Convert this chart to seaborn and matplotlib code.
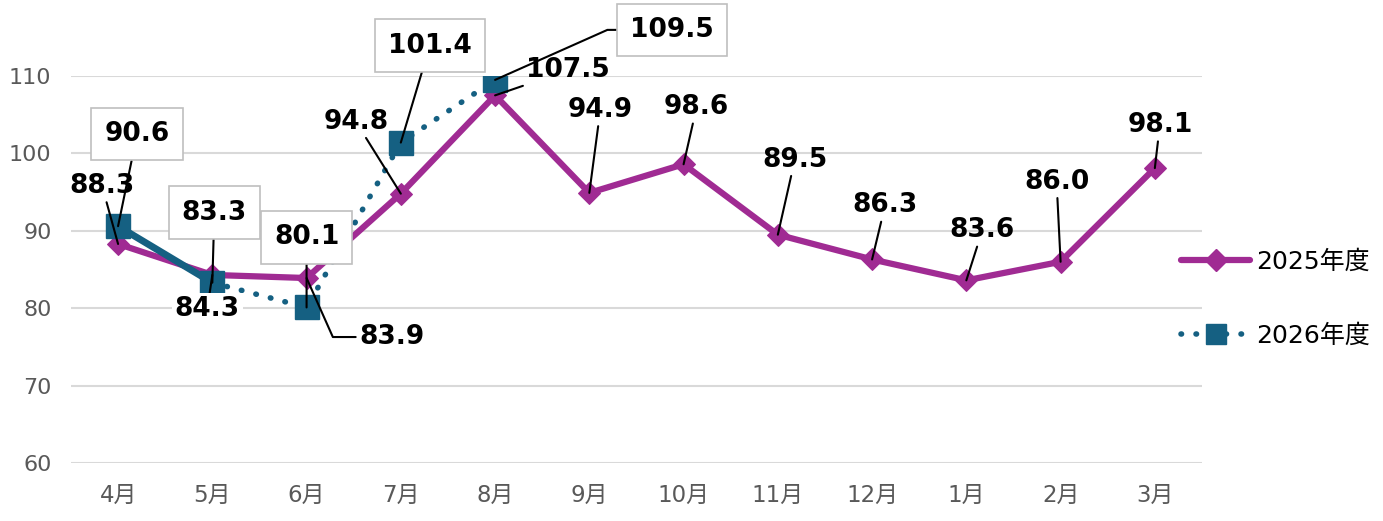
import pandas as pd
import matplotlib.pyplot as plt
import seaborn as sns
from matplotlib.lines import Line2D

# --- data ---
months = ["4月", "5月", "6月", "7月", "8月", "9月", "10月", "11月", "12月", "1月", "2月", "3月"]
fy2025 = [88.3, 84.3, 83.9, 94.8, 107.5, 94.9, 98.6, 89.5, 86.3, 83.6, 86.0, 98.1]
fy2026 = [90.6, 83.3, 80.1, 101.4, 109.5]

# label offsets (pixels, from each point)
off2025 = [(-16, 58), (-5, -34), (85, -59), (-45, 72), (73, 25), (11, 83),
           (13, 57), (17, 75), (13, 54), (16, 50), (-4, 80), (5, 43)]
off2026 = [(19, 92), (2, 70), (0, 70), (29, 97), (177, 50)]

PURPLE = "#A02B93"
TEAL = "#156082"
FONTS = ["DejaVu Sans", "Noto Sans CJK JP"]

sns.set_theme(style="white")
plt.rcParams["font.family"] = FONTS

df25 = pd.DataFrame({"x": range(len(fy2025)), "v": fy2025})
df26 = pd.DataFrame({"x": range(len(fy2026)), "v": fy2026})

fig = plt.figure(figsize=(13.83, 5.21), dpi=100)
ax = fig.add_axes([0.0513, 0.1113, 0.8178, 0.7428])

sns.lineplot(data=df25, x="x", y="v", ax=ax, color=PURPLE, lw=4.5,
             marker="D", markersize=11, markeredgecolor=PURPLE, zorder=3)
# 2026: solid for the first segment, dotted afterwards
sns.lineplot(data=df26.iloc[:2], x="x", y="v", ax=ax, color=TEAL, lw=5, zorder=4)
dotted = sns.lineplot(data=df26.iloc[1:], x="x", y="v", ax=ax, color=TEAL, lw=4,
                      zorder=4)
dotted.lines[-1].set_linestyle((0, (0.1, 2.6)))
dotted.lines[-1].set_dash_capstyle("round")
ax.plot(df26["x"], df26["v"], ls="none", marker="s", ms=17, color=TEAL, zorder=5)

ax.set_xlim(-0.5, 11.5)
ax.set_ylim(60, 110)
ax.set_yticks(range(60, 111, 10))
ax.set_xticks(range(len(months)))
ax.set_xticklabels(months)
ax.set_xlabel("")
ax.set_ylabel("")
ax.grid(axis="y", color="#D9D9D9", lw=1.5)
ax.set_axisbelow(True)
for s in ax.spines.values():
    s.set_visible(False)
ax.tick_params(axis="x", length=0, pad=15, labelsize=16.5, labelcolor="#595959")
ax.tick_params(axis="y", length=0, pad=14, labelsize=16, labelcolor="#595959")

# --- data labels ---
line_kw = dict(arrowstyle="-", color="black", lw=1.5, shrinkA=0, shrinkB=0)
for i, (v, off) in enumerate(zip(fy2025, off2025)):
    props = dict(line_kw)
    if i == 2:
        props.update(connectionstyle="angle,angleA=180,angleB=-66,rad=0", relpos=(0, 0.5))
    bbox = dict(boxstyle="square,pad=0.1", fc="white", ec="none") if i == 1 else None
    ax.annotate(f"{v:.1f}", (i, v), xytext=off, textcoords="offset pixels",
                ha="center", va="center", fontsize=19, fontweight="bold",
                color="black", family="DejaVu Sans", arrowprops=props, bbox=bbox,
                zorder=10, annotation_clip=False)

for i, (v, off) in enumerate(zip(fy2026, off2026)):
    props = dict(line_kw)
    if i == 4:
        props.update(connectionstyle="angle,angleA=180,angleB=24,rad=0", relpos=(0, 0.5))
    ax.annotate(f"{v:.1f}", (i, v), xytext=off, textcoords="offset pixels",
                ha="center", va="center", fontsize=19, fontweight="bold",
                color="black", family="DejaVu Sans", arrowprops=props,
                bbox=dict(boxstyle="square,pad=0.5", fc="white", ec="#BFBFBF", lw=1.2),
                zorder=11, annotation_clip=False)

# --- legend ---
h25 = Line2D([], [], color=PURPLE, lw=4.5, marker="D", ms=11, solid_capstyle="round")
h26 = Line2D([], [], color=TEAL, lw=4, ls=(0, (0.1, 2.6)), dash_capstyle="round",
             marker="s", ms=15)
leg = fig.legend([h25, h26], ["2025年度", "2026年度"], loc="center left",
                 bbox_to_anchor=(0.845, 0.426), frameon=False, fontsize=18,
                 handlelength=2.75, handletextpad=0.25, labelspacing=2.0, borderpad=0)
for t in leg.get_texts():
    t.set_color("black")

fig.savefig("out.png", dpi=100)
